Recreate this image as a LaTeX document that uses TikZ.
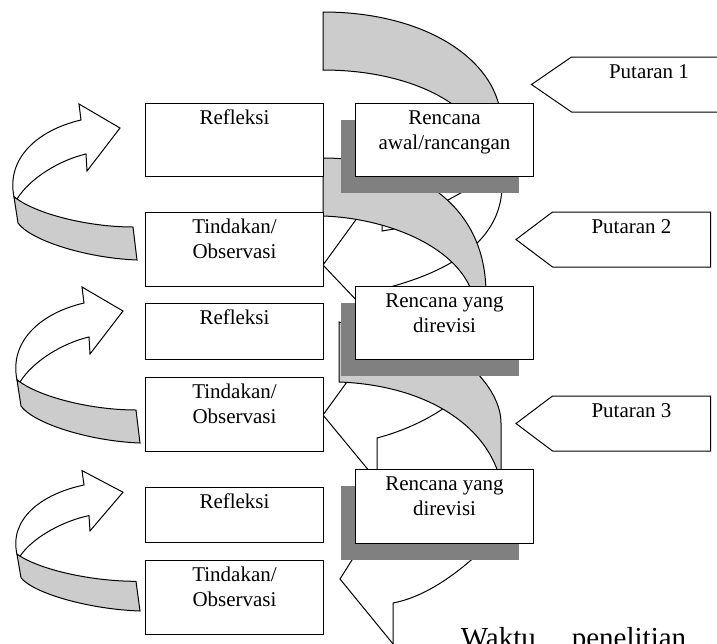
\documentclass[tikz,border=0pt]{standalone}
\usepackage{fontspec}
\setmainfont{Liberation Serif}
\usetikzlibrary{shapes.symbols,shadows}
\definecolor{ribbon}{gray}{0.8}
\definecolor{shade}{gray}{0.5}
\newcommand{\boxtext}[3]{\parbox[c][#2][t]{#1}{\centering\rule{0pt}{21pt}#3}}

\begin{document}
\begin{tikzpicture}[x=1pt,y=-1pt,line width=1pt,
box/.style={draw,fill=white,inner sep=0pt,anchor=north west,font=\fontsize{21}{25}\selectfont},
plan/.style={box,general shadow={fill=shade,shadow xshift=-15pt,shadow yshift=-16pt}},
turn/.style={box,shape=signal,signal to=west,anchor=east},
loop arrow/.pic={
\draw[fill=white] (81,120) -- (79,104) -- (120,128) -- (87,171) -- (86,154) .. controls (60,160) and (30,178) .. (17,199) -- (14,197) .. controls (6,158) and (38,130) .. (81,120) -- cycle;
\draw[fill=ribbon] (17,199) .. controls (40,215) and (90,227) .. (133,227) -- (137,260) .. controls (85,258) and (30,240) .. (18,223) -- (14,197) -- cycle;
}]
\useasboundingbox (0,0) rectangle (717,643);

\pic at (0,0) {loop arrow};
\pic at (3,183) {loop arrow};
\pic[yscale=0.9] at (3,377) {loop arrow};

\draw[fill=ribbon] (323,12) .. controls (420,12) and (490,55) .. (500,110) -- (460,110) .. controls (430,85) and (380,70) .. (323,70) -- cycle;
\draw (502,185) .. controls (502,235) and (460,268) .. (390,287);
\draw (466,190) .. controls (440,205) and (405,222) .. (382,225) -- (382,231) -- (394,229);
\draw (363,210) -- (323,265) -- (360,304);

\draw[fill=ribbon] (323,158) .. controls (400,158) and (485,195) .. (486,292) -- (472,292) .. controls (455,245) and (385,218) .. (323,216) -- cycle;
\draw (455,400) .. controls (430,420) and (400,432) .. (377,438) -- (377,472);
\draw (352,375) -- (323,415) -- (370,472);

\draw[fill=ribbon] (339,322) -- (339,382) .. controls (420,385) and (480,420) .. (498,472) -- (501,472) -- (501,423) .. controls (501,405) and (490,385) .. (472,368) -- cycle;
\draw (480,552) .. controls (450,580) and (420,598) .. (393,603) -- (393,650);
\draw (357,552) -- (340,579) -- (398,650);

\node[box] (ref1) at (145,103) {\boxtext{178pt}{73pt}{Refleksi}};
\node[box] (act1) at (145,212) {\boxtext{178pt}{74pt}{Tindakan/\\Observasi}};
\node[box] (ref2) at (145,303) {\boxtext{178pt}{56pt}{Refleksi}};
\node[box] (act2) at (145,377) {\boxtext{178pt}{74pt}{Tindakan/\\Observasi}};
\node[box] (ref3) at (145,487) {\boxtext{178pt}{55pt}{Refleksi}};
\node[box] (act3) at (145,560) {\boxtext{178pt}{74pt}{Tindakan/\\Observasi}};

\node[plan] (plan1) at (355,103) {\boxtext{178pt}{73pt}{Rencana\\awal/rancangan}};
\node[plan] (plan2) at (355,286) {\boxtext{178pt}{73pt}{Rencana yang\\direvisi}};
\node[plan] (plan3) at (355,469) {\boxtext{178pt}{74pt}{Rencana yang\\direvisi}};

\node[turn,signal pointer angle=69] (put1) at (727,84.5) {\boxtext{155pt}{55pt}{Putaran 1}};
\node[turn,signal pointer angle=74] (put2) at (711,239.5) {\boxtext{158pt}{55pt}{Putaran 2}};
\node[turn,signal pointer angle=74] (put3) at (711,423.5) {\boxtext{158pt}{55pt}{Putaran 3}};

\node[anchor=base west,font=\fontsize{29}{34}\selectfont] (waktu) at (457,647) {Waktu\hspace{36pt}penelitian};
\end{tikzpicture}
\end{document}
